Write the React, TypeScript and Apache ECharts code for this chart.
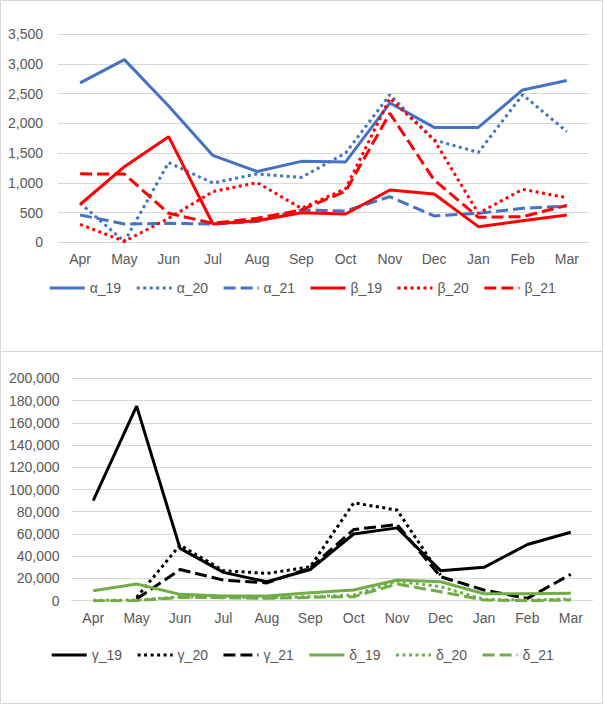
import React, { useEffect, useRef } from "react";
import * as echarts from "echarts";

const months = ["Apr", "May", "Jun", "Jul", "Aug", "Sep", "Oct", "Nov", "Dec", "Jan", "Feb", "Mar"];

const alpha19 = [2680, 3070, 2290, 1460, 1190, 1360, 1350, 2340, 1930, 1930, 2560, 2720];
const alpha20 = [660, 10, 1340, 995, 1150, 1090, 1500, 2480, 1720, 1510, 2480, 1860];
const alpha21 = [459, 308, 319, 308, 350, 543, 526, 767, 442, 487, 571, 610];
const beta19 = [635, 1271, 1775, 308, 363, 498, 476, 879, 811, 263, 363, 459];
const beta20 = [302, 15, 403, 852, 1003, 571, 900, 2420, 1720, 487, 890, 750];
const beta21 = [1150, 1147, 487, 319, 403, 543, 860, 2167, 1047, 420, 431, 620];

const gamma19 = [90000, 175000, 47000, 25500, 17000, 28000, 60000, 65500, 27000, 30000, 50500, 61500];
const gamma20 = [null, 3000, 50000, 27000, 24500, 30500, 88000, 81500, 23000, null, null, null];
const gamma21 = [null, 1500, 28000, 18500, 16000, 29500, 64000, 68500, 21600, 9600, 2100, 23700];
const delta19 = [9000, 15000, 5700, 4200, 4200, 7200, 9600, 18600, 17000, 6300, 6300, 6600];
const delta20 = [300, 600, 3600, 3000, 2700, 3600, 5100, 17500, 12600, 1200, 600, 1500];
const delta21 = [0, 0, 3000, 2700, 2100, 3000, 3600, 15000, 8000, 600, 0, 600];

const topNames = ["α_19", "α_20", "α_21", "β_19", "β_20", "β_21"];
const bottomNames = ["γ_19", "γ_20", "γ_21", "δ_19", "δ_20", "δ_21"];

const topTicks = { min: 0, max: 3500, interval: 500 };
const bottomTicks = { min: 0, max: 200000, interval: 20000 };

const BLUE = "#4472C4";
const RED = "#FF0000";
const BLACK = "#000000";
const GREEN = "#70AD47";
const FONT = "'Liberation Sans', Arial, sans-serif";
const TXT = "#595959";
const GRID = "#d9d9d9";
const DOT = [3, 3.5];
const DASH = [12, 5];
const STYLES: any[] = ["solid", DOT, DASH];

function mk(name: string, data: (number | null)[], color: string, type: any, idx: number) {
  return {
    name,
    type: "line",
    data,
    xAxisIndex: idx,
    yAxisIndex: idx,
    symbol: "none",
    showSymbol: false,
    connectNulls: false,
    lineStyle: { color, width: 3, type },
    itemStyle: { color },
    emphasis: { disabled: true },
  };
}

function legendItems(names: string[], colors: string[]) {
  return names.map((name, i) => ({
    name,
    itemStyle: { opacity: 0 },
    lineStyle: { color: colors[Math.floor(i / 3)], width: 3, type: STYLES[i % 3] },
  }));
}

const fmt = (v: number) => v.toLocaleString("en-US");

export default function App() {
  const ref = useRef<HTMLDivElement>(null);
  useEffect(() => {
    if (!ref.current) return;
    const chart = echarts.init(ref.current, undefined, { renderer: "svg" });
    const axisLabel = { color: TXT, fontSize: 14, fontFamily: FONT };
    const legendCommon = {
      left: "center",
      itemWidth: 35,
      itemHeight: 14,
      itemGap: 14,
      textStyle: { color: TXT, fontSize: 14, fontFamily: FONT },
    };
    chart.setOption({
      animation: false,
      textStyle: { fontFamily: FONT },
      graphic: [
        { type: "rect", shape: { x: 0.5, y: 0.5, width: 602, height: 351 }, style: { fill: "none", stroke: GRID, lineWidth: 1 } },
        { type: "rect", shape: { x: 0.5, y: 351.5, width: 602, height: 352 }, style: { fill: "none", stroke: GRID, lineWidth: 1 } },
      ],
      grid: [
        { left: 58, width: 531, top: 34, height: 208.3 },
        { left: 71.5, width: 521, top: 378.3, height: 222.4 },
      ],
      legend: [
        { ...legendCommon, top: 276, data: legendItems(topNames, [BLUE, RED]) },
        { ...legendCommon, top: 643, data: legendItems(bottomNames, [BLACK, GREEN]) },
      ],
      xAxis: [0, 1].map((i) => ({
        type: "category",
        gridIndex: i,
        data: months,
        boundaryGap: true,
        axisLine: { show: true, lineStyle: { color: GRID, width: 1 } },
        axisTick: { show: false },
        axisLabel: { ...axisLabel, margin: 10, interval: 0 },
      })),
      yAxis: [
        {
          type: "value",
          gridIndex: 0,
          ...topTicks,
          axisLine: { show: false },
          axisTick: { show: false },
          splitLine: { lineStyle: { color: GRID, width: 1 } },
          axisLabel: { ...axisLabel, margin: 15, formatter: fmt },
        },
        {
          type: "value",
          gridIndex: 1,
          ...bottomTicks,
          axisLine: { show: false },
          axisTick: { show: false },
          splitLine: { lineStyle: { color: GRID, width: 1 } },
          axisLabel: { ...axisLabel, margin: 12, formatter: fmt },
        },
      ],
      series: [
        mk("α_19", alpha19, BLUE, "solid", 0),
        mk("α_20", alpha20, BLUE, DOT, 0),
        mk("α_21", alpha21, BLUE, DASH, 0),
        mk("β_19", beta19, RED, "solid", 0),
        mk("β_20", beta20, RED, DOT, 0),
        mk("β_21", beta21, RED, DASH, 0),
        mk("γ_19", gamma19, BLACK, "solid", 1),
        mk("γ_20", gamma20, BLACK, DOT, 1),
        mk("γ_21", gamma21, BLACK, DASH, 1),
        mk("δ_19", delta19, GREEN, "solid", 1),
        mk("δ_20", delta20, GREEN, DOT, 1),
        mk("δ_21", delta21, GREEN, DASH, 1),
      ],
    });
    return () => chart.dispose();
  }, []);
  return (
    <div
      ref={ref}
      style={{ position: "fixed", left: 0, top: 0, width: 604, height: 705, background: "#fff" }}
    />
  );
}
